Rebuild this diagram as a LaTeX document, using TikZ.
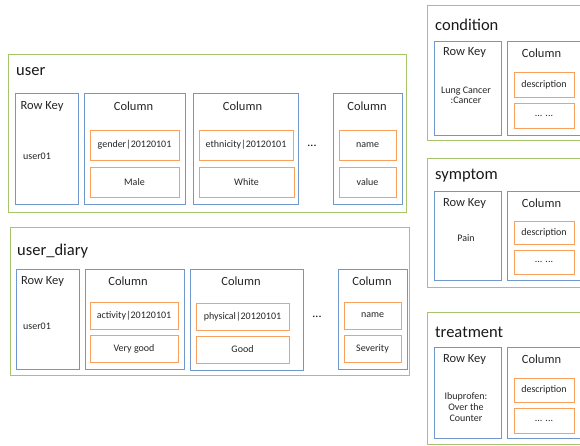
\documentclass[tikz,border=0pt]{standalone}
\usepackage{fontspec}
\setmainfont{Carlito}
\usetikzlibrary{fit,shadows}
\definecolor{tgreen}{HTML}{A6C46E}
\definecolor{tblue}{HTML}{7098CC}
\definecolor{torange}{HTML}{F8A05C}
\tikzset{
 shad/.style={drop shadow={shadow xshift=0.8pt,shadow yshift=-0.8pt,opacity=0.15,fill=black!60}},
 tablebox/.style={draw=tgreen,line width=0.9pt,fill=white,inner sep=0pt,shad},
 fambox/.style={draw=tblue,line width=0.85pt,fill=white,inner sep=0pt,shad},
 cellbox/.style={draw=torange,line width=0.9pt,fill=white,inner sep=0pt,shad},
 ttl/.style={font=\fontsize{16.5}{18}\selectfont,anchor=west,inner sep=0pt,text=black!90},
 head/.style={font=\fontsize{12.5}{14}\selectfont,inner sep=0pt,text=black!85},
 small/.style={font=\fontsize{10}{12}\selectfont,inner sep=0pt,align=center,text=black!85},
 dots/.style={font=\fontsize{12}{14}\selectfont,inner sep=0pt},
}
\newcommand\mybox[6]{\node[#1,fit={(#3,#4) (#5,#6)}] (#2) {};}
\newcommand\mycell[7]{\node[cellbox,fit={(#2,#3) (#4,#5)}] (#1) {};\node[small] (#6) at (#1.center) {#7};}
\begin{document}
\begin{tikzpicture}[x=1pt,y=-1pt]
\useasboundingbox (0,0) rectangle (580,446);
\clip (0,0) rectangle (580,446);
% ---------------- user
\mybox{tablebox}{user}{8}{54}{406}{212}
\node[ttl] (userT) at (16,72) {user};
\mybox{fambox}{urk}{15}{93}{78}{204}
\node[head] (urkT) at (42,106) {Row Key};
\node[small] (urkV) at (37,156) {user01};
\mybox{fambox}{uc1}{84}{93}{185}{204}
\node[head] (uc1T) at (133.5,106) {Column};
\mycell{uc1a}{90}{130}{179}{160}{uc1aT}{gender|20120101}
\mycell{uc1b}{90}{167}{179}{197}{uc1bT}{Male}
\mybox{fambox}{uc2}{193}{93}{298}{204}
\node[head] (uc2T) at (242.5,106) {Column};
\mycell{uc2a}{199}{130}{293}{160}{uc2aT}{ethnicity|20120101}
\mycell{uc2b}{199}{167}{294}{197}{uc2bT}{White}
\node[dots] (udots) at (312,146) {...};
\mybox{fambox}{uc3}{333}{93}{402}{204}
\node[head] (uc3T) at (367,106) {Column};
\mycell{uc3a}{339}{130}{396}{160}{uc3aT}{name}
\mycell{uc3b}{339}{167}{396}{197}{uc3bT}{value}
% ---------------- user_diary
\mybox{tablebox}{diary}{10}{227}{409}{375}
\node[ttl] (diaryT) at (17,251) {user\_diary};
\mybox{fambox}{drk}{16}{269}{79}{369}
\node[head] (drkT) at (42.5,281) {Row Key};
\node[small] (drkV) at (37,326) {user01};
\mybox{fambox}{dc1}{85}{269}{184}{369}
\node[head] (dc1T) at (128,281) {Column};
\mycell{dc1a}{90}{302}{178}{329}{dc1aT}{activity|20120101}
\mycell{dc1b}{90}{335}{178}{362}{dc1bT}{Very good}
\mybox{fambox}{dc2}{190}{269}{303}{370}
\node[head] (dc2T) at (241,281) {Column};
\mycell{dc2a}{196}{303}{289}{330}{dc2aT}{physical|20120101}
\mycell{dc2b}{196}{336}{289}{363}{dc2bT}{Good}
\node[dots] (ddots) at (317,317) {...};
\mybox{fambox}{dc3}{338}{269}{407}{369}
\node[head] (dc3T) at (372,281) {Column};
\mycell{dc3a}{344}{302}{401}{329}{dc3aT}{name}
\mycell{dc3b}{344}{335}{401}{362}{dc3bT}{Severity}
% ---------------- condition
\mybox{tablebox}{cond}{427}{5}{592}{140}
\node[ttl] (condT) at (435,25) {condition};
\mybox{fambox}{crk}{434}{41}{501}{135}
\node[head] (crkT) at (464.5,53) {Row Key};
\node[small] (crkV) at (466,95.5) {Lung Cancer\\[-1.5pt]:Cancer};
\mybox{fambox}{cc}{507}{41}{588}{135}
\node[head] (ccT) at (541.5,53) {Column};
\mycell{cca}{514}{72}{574}{97}{ccaT}{description}
\mycell{ccb}{514}{103}{574}{128}{ccbT}{... ...}
% ---------------- symptom
\mybox{tablebox}{symp}{427}{158}{592}{287}
\node[ttl] (sympT) at (435,176) {symptom};
\mybox{fambox}{srk}{434}{191}{501}{280}
\node[head] (srkT) at (464.5,203) {Row Key};
\node[small] (srkV) at (466,238) {Pain};
\mybox{fambox}{sc}{507}{191}{588}{280}
\node[head] (scT) at (541.5,203) {Column};
\mycell{sca}{514}{221}{574}{244}{scaT}{description}
\mycell{scb}{514}{250}{574}{274}{scbT}{... ...}
% ---------------- treatment
\mybox{tablebox}{treat}{427}{312}{592}{444}
\node[ttl] (treatT) at (435,332) {treatment};
\mybox{fambox}{trk}{434}{347}{501}{438}
\node[head] (trkT) at (464.5,359) {Row Key};
\node[small] (trkV) at (466,407) {Ibuprofen:\\[-1pt]Over the\\[-1pt]Counter};
\mybox{fambox}{tc}{507}{347}{588}{438}
\node[head] (tcT) at (541.5,359) {Column};
\mycell{tca}{514}{378}{574}{402}{tcaT}{description}
\mycell{tcb}{514}{408}{574}{433}{tcbT}{... ...}
\end{tikzpicture}
\end{document}
